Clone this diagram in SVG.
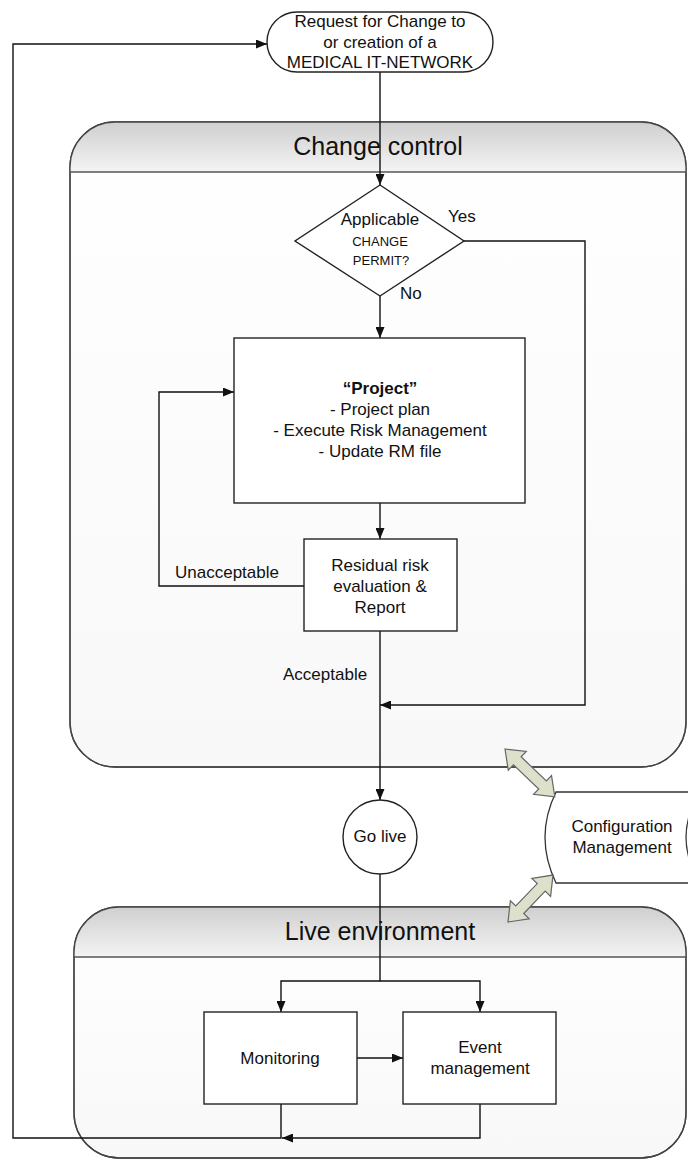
<svg xmlns="http://www.w3.org/2000/svg" width="688" height="1160" viewBox="0 0 688 1160">
  <defs>
    <linearGradient id="hdr" x1="0" y1="0" x2="0" y2="1">
      <stop offset="0" stop-color="#cfcfcf"/>
      <stop offset="1" stop-color="#f4f4f4"/>
    </linearGradient>
    <linearGradient id="body" x1="0" y1="0" x2="0" y2="1">
      <stop offset="0" stop-color="#ffffff"/>
      <stop offset="1" stop-color="#f8f8f8"/>
    </linearGradient>
    <marker id="arr" markerUnits="userSpaceOnUse" markerWidth="11" markerHeight="9" refX="11" refY="4.5" orient="auto">
      <path d="M0,0 L11,4.5 L0,9 z" fill="#111"/>
    </marker>
    <style>
      text { font-family: "Liberation Sans", Arial, sans-serif; fill: #111; }
      .t17 { font-size: 17px; text-anchor: middle; }
      .cap { font-size: 13px; text-anchor: middle; }
      .lane-title { font-size: 25px; text-anchor: middle; }
      .lbl { font-size: 17px; }
      .lane { fill: url(#body); stroke: #444; stroke-width: 1.3; }
      .lane-hdr { fill: url(#hdr); stroke: none; }
      .lane-line { stroke: #555; stroke-width: 1.5; fill: none; }
      .lane-edge { fill: none; stroke: #444; stroke-width: 1.3; }
      .box { fill: #fff; stroke: #222; stroke-width: 1.4; }
      .conn { fill: none; stroke: #111; stroke-width: 1.4; }
      .dbl { fill: #dde1cb; stroke: #666; stroke-width: 1.2; }
    </style>
  </defs>

  <!-- Swimlanes -->
  <g id="lane-change-control">
    <rect class="lane" x="70" y="122" width="616" height="645" rx="45" ry="45"/>
    <path class="lane-hdr" d="M70,172 V167 A45,45 0 0 1 115,122 H641 A45,45 0 0 1 686,167 V172 Z"/>
    <rect class="lane-edge" x="70" y="122" width="616" height="645" rx="45" ry="45"/>
    <line class="lane-line" x1="70" y1="172" x2="686" y2="172"/>
    <text class="lane-title" x="378" y="155">Change control</text>
  </g>

  <g id="lane-live-environment">
    <rect class="lane" x="74" y="907" width="612" height="251" rx="45" ry="45"/>
    <path class="lane-hdr" d="M74,957 V952 A45,45 0 0 1 119,907 H641 A45,45 0 0 1 686,952 V957 Z"/>
    <rect class="lane-edge" x="74" y="907" width="612" height="251" rx="45" ry="45"/>
    <line class="lane-line" x1="74" y1="957" x2="686" y2="957"/>
    <text class="lane-title" x="380" y="940">Live environment</text>
  </g>

  <!-- Configuration Management store -->
  <g id="configuration-management">
    <path d="M556,792 H700 Q672,837 700,883 H556 Q534,837 556,792 Z" fill="#fff" stroke="#333" stroke-width="1.3"/>
    <text class="t17" x="622" y="832">Configuration</text>
    <text class="t17" x="622" y="853">Management</text>
  </g>

  <!-- Connectors -->
  <g id="connectors">
    <path class="conn" d="M380,72 V185" marker-end="url(#arr)"/>
    <path class="conn" d="M464,241 H585 V705 H380" marker-end="url(#arr)"/>
    <path class="conn" d="M380,296 V338" marker-end="url(#arr)"/>
    <path class="conn" d="M380,503 V539" marker-end="url(#arr)"/>
    <path class="conn" d="M304,586 H159 V392 H234" marker-end="url(#arr)"/>
    <path class="conn" d="M380,631 V800" marker-end="url(#arr)"/>
    <path class="conn" d="M380,874 V981 H281 V1012" marker-end="url(#arr)"/>
    <path class="conn" d="M380,981 H480 V1012" marker-end="url(#arr)"/>
    <path class="conn" d="M357,1058 H403" marker-end="url(#arr)"/>
    <path class="conn" d="M480,1104 V1138 H282" marker-end="url(#arr)"/>
    <path class="conn" d="M281,1104 V1138 H13 V44 H267" marker-end="url(#arr)"/>

    <!-- Edge labels -->
    <text class="lbl" x="448" y="222">Yes</text>
    <text class="lbl" x="400" y="299">No</text>
    <text class="lbl" x="175" y="578">Unacceptable</text>
    <text class="lbl" x="283" y="680">Acceptable</text>

    <!-- Links to configuration management -->
    <polygon class="dbl" transform="translate(505,749) rotate(43.8)" points="0,0 17,-13 17,-5.5 52,-5.5 52,-13 69,0 52,13 52,5.5 17,5.5 17,13"/>
    <polygon class="dbl" transform="translate(508,922) rotate(-46.2)" points="0,0 17,-13 17,-5.5 48,-5.5 48,-13 65,0 48,13 48,5.5 17,5.5 17,13"/>
  </g>

  <!-- Nodes -->
  <g id="request">
    <rect class="box" x="267" y="12" width="226" height="60" rx="30" ry="30" stroke="#444" stroke-width="1.2"/>
    <text class="t17" x="380" y="27">Request for Change to</text>
    <text class="t17" x="380" y="48">or creation of a</text>
    <text class="t17" x="380" y="68">MEDICAL IT-NETWORK</text>
  </g>

  <g id="permit-decision">
    <polygon class="box" points="380,185 464,241 380,296 295,241" stroke="#444" stroke-width="1.2"/>
    <text class="t17" x="380" y="225">Applicable</text>
    <text class="cap" x="380" y="246">CHANGE</text>
    <text class="cap" x="381" y="265">PERMIT?</text>
  </g>

  <g id="project">
    <rect class="box" x="234" y="338" width="291" height="165"/>
    <text class="t17" x="380" y="394" font-weight="bold">“Project”</text>
    <text class="t17" x="380" y="415">- Project plan</text>
    <text class="t17" x="380" y="436">- Execute Risk Management</text>
    <text class="t17" x="380" y="457">- Update RM file</text>
  </g>

  <g id="residual-risk">
    <rect class="box" x="304" y="539" width="153" height="92"/>
    <text class="t17" x="380" y="571">Residual risk</text>
    <text class="t17" x="380" y="592">evaluation &amp;</text>
    <text class="t17" x="380" y="613">Report</text>
  </g>

  <g id="go-live">
    <circle class="box" cx="380" cy="837" r="37" stroke="#444" stroke-width="1.2"/>
    <text class="t17" x="380" y="842">Go live</text>
  </g>

  <g id="monitoring">
    <rect class="box" x="204" y="1012" width="153" height="92"/>
    <text class="t17" x="280" y="1064">Monitoring</text>
  </g>

  <g id="event-management">
    <rect class="box" x="403" y="1012" width="153" height="92"/>
    <text class="t17" x="480" y="1053">Event</text>
    <text class="t17" x="480" y="1074">management</text>
  </g>
</svg>
